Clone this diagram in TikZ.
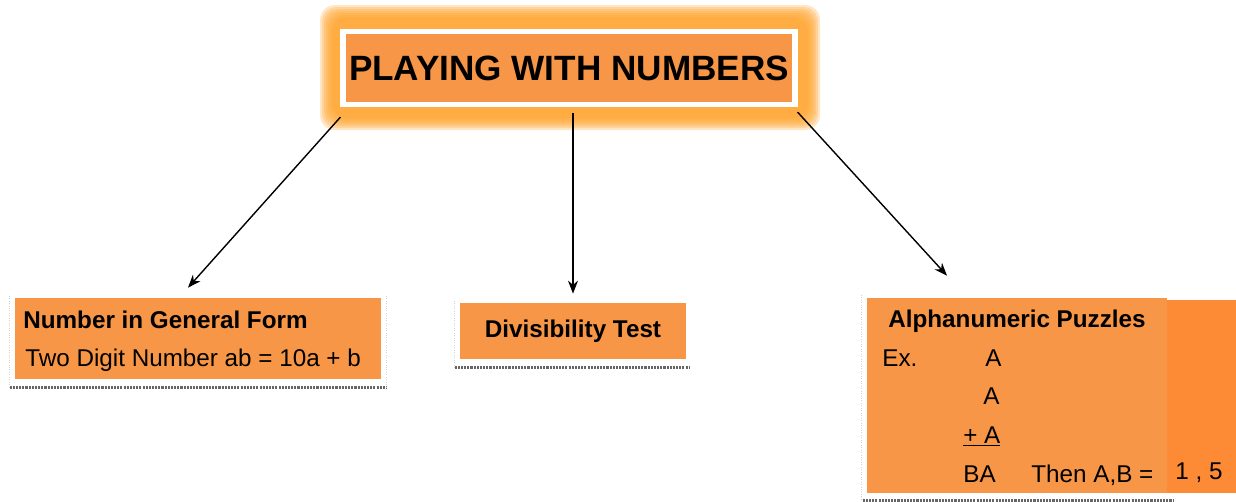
\documentclass[tikz,border=0pt]{standalone}
\usepackage{fontspec}
\setmainfont{Liberation Sans}
\usetikzlibrary{arrows.meta, positioning}

\definecolor{boxorange}{HTML}{F79646}
\definecolor{deeporange}{HTML}{FD8B35}
\definecolor{gloworange}{HTML}{FFA42E}

\begin{document}
\begin{tikzpicture}[x=0.02cm,y=-0.02cm,>={Stealth[length=2.6mm,width=2mm]}]
	\tikzstyle{every node}=[font=\fontsize{13.8}{16}\selectfont]
	\tikzstyle{card}=[fill=boxorange, inner sep=0pt]
	\tikzstyle{heading}=[font=\fontsize{13.8}{16}\selectfont\bfseries]
	\tikzstyle{txt}=[anchor=base west, inner sep=0pt]
	\tikzstyle{shade}=[black!60, line width=1.5pt, dash pattern=on 1.2pt off 0.6pt]
	\tikzstyle{edgeline}=[gray!35, densely dotted, thin]
	
	\useasboundingbox (0,0) rectangle (1236,501);
	
	% soft glow round the title
	\foreach \d in {0,2,...,12}
		\fill[gloworange, opacity=0.28, rounded corners=0.3cm] (320+\d,5+\d) rectangle (820-\d,130-\d);
	
	\node[card, draw=white, line width=3pt, minimum width=9.04cm, minimum height=1.46cm,
		font=\fontsize{20}{24}\selectfont\bfseries] (title) at (569,68) {PLAYING WITH NUMBERS};
	
	% general form
	\node[card, minimum width=7.32cm, minimum height=1.62cm] (gen) at (198,338.5) {};
	\node[txt, heading] (genhead) at (23,328) {Number in General Form};
	\node[txt] (genform) at (25,366) {Two Digit Number ab = 10a + b};
	\draw[shade] ([xshift=-0.1cm,yshift=-0.16cm]gen.south west) -- ([xshift=0.12cm,yshift=-0.16cm]gen.south east);
	\draw[edgeline] ([xshift=-0.1cm,yshift=0.04cm]gen.north west) -- ([xshift=-0.1cm,yshift=-0.16cm]gen.south west);
	\draw[edgeline] ([xshift=0.1cm,yshift=0.04cm]gen.north east) -- ([xshift=0.1cm,yshift=-0.16cm]gen.south east);
	
	% divisibility
	\node[card, heading, minimum width=4.52cm, minimum height=1.12cm] (div) at (573,331) {Divisibility Test};
	\draw[shade] ([xshift=-0.1cm,yshift=-0.16cm]div.south west) -- ([xshift=0.08cm,yshift=-0.16cm]div.south east);
	\draw[edgeline] ([xshift=-0.1cm,yshift=0.04cm]div.north west) -- ([xshift=-0.1cm,yshift=-0.16cm]div.south west);
	
	% puzzles
	\node[card, minimum width=6cm, minimum height=3.9cm] (puz) at (1017,395.5) {};
	\node[fill=deeporange, inner sep=0pt, minimum width=1.38cm, minimum height=3.86cm] (side) at (1201.5,396.5) {};
	\draw[shade] ([xshift=-0.08cm,yshift=-0.14cm]puz.south west) -- ([xshift=0.12cm,yshift=-0.14cm]puz.south east);
	\draw[edgeline] ([xshift=-0.1cm,yshift=0.06cm]puz.north west) -- ([xshift=-0.1cm,yshift=-0.14cm]puz.south west);
	
	\node[heading, anchor=base, inner sep=0pt] (puzhead) at (1017,327) {Alphanumeric Puzzles};
	\node[txt] (ex) at (882,366) {Ex.};
	\node[txt] (rowa) at (985,366) {A};
	\node[txt] (rowb) at (983,404) {A};
	\node[txt] (rowc) at (963,443) {\underline{+ A}};
	\node[txt] (rowsum) at (963,482) {BA};
	\node[txt] (then) at (1031,482) {Then A,B =};
	\node[txt] (answer) at (1175,479) {1 , 5};
	
	\path[->, line width=0.8pt]
		([yshift=-0.2cm]title.south west) edge ([xshift=-0.2cm,yshift=0.2cm]gen.north)
		([yshift=-0.12cm]title.south -| div.north) edge ([yshift=0.18cm]div.north)
		([yshift=-0.1cm]title.south east) edge ([xshift=-1.4cm,yshift=0.44cm]puz.north);
\end{tikzpicture}
\end{document}
